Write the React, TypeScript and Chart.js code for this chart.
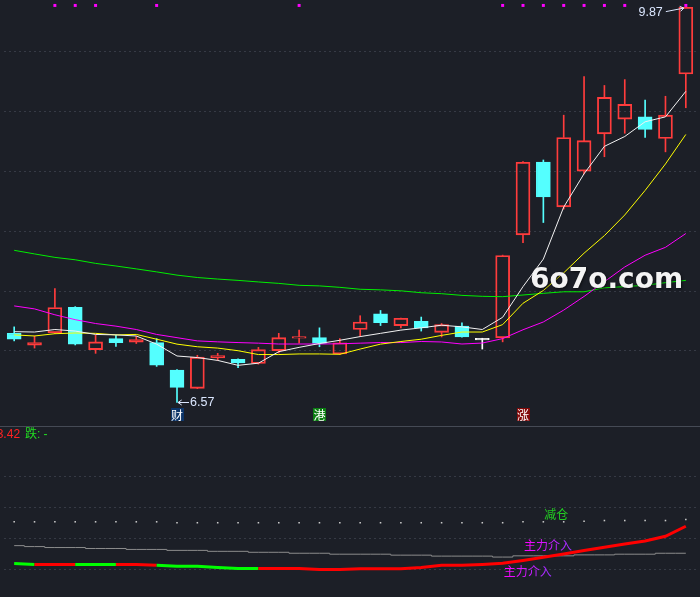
import React, { useEffect, useRef } from "react";
import { Chart, registerables } from "chart.js";

Chart.register(...registerables);

// ---------- candle data ----------
const opens = [7.147, 7.048, 7.152, 7.365, 7.011, 7.103, 7.073, 7.070, 6.841, 6.688, 6.942, 6.931, 6.896, 7.003, 7.106, 7.111, 6.975, 7.179, 7.310, 7.212, 7.248, 7.155, 7.207, 7.093, 7.109, 7.969, 8.577, 8.203, 8.501, 8.812, 8.935, 8.954, 8.774, 9.312];
const highs = [7.201, 7.125, 7.521, 7.370, 7.133, 7.130, 7.122, 7.103, 6.845, 6.964, 6.980, 6.935, 7.030, 7.147, 7.175, 7.193, 7.103, 7.294, 7.338, 7.275, 7.283, 7.229, 7.234, 7.106, 7.800, 8.580, 8.594, 8.968, 9.290, 9.216, 9.265, 9.093, 9.126, 9.870];
const lows = [7.084, 7.024, 7.144, 7.050, 6.980, 7.038, 7.062, 6.871, 6.570, 6.685, 6.920, 6.860, 6.890, 6.983, 7.065, 7.035, 6.970, 7.120, 7.212, 7.193, 7.166, 7.117, 7.115, 7.016, 7.076, 7.903, 8.072, 8.184, 8.477, 8.621, 8.817, 8.782, 8.662, 9.030];
const closes = [7.098, 7.070, 7.363, 7.057, 7.076, 7.070, 7.095, 6.882, 6.696, 6.948, 6.961, 6.901, 7.011, 7.111, 7.120, 7.062, 7.068, 7.242, 7.237, 7.273, 7.193, 7.220, 7.117, 7.093, 7.797, 8.575, 8.285, 8.782, 8.755, 9.116, 9.058, 8.850, 8.968, 9.869];
const categories = opens.map((_, i) => `K${i + 1}`);

// ---------- moving averages ----------
const ma5 = [7.161, 7.158, 7.179, 7.166, 7.138, 7.134, 7.125, 7.057, 6.958, 6.945, 6.921, 6.880, 6.898, 6.994, 7.030, 7.062, 7.089, 7.120, 7.147, 7.174, 7.193, 7.215, 7.201, 7.179, 7.281, 7.537, 7.767, 8.201, 8.479, 8.708, 8.790, 8.913, 8.954, 9.167];
const ma10 = [7.134, 7.125, 7.144, 7.150, 7.147, 7.134, 7.138, 7.098, 7.057, 7.035, 7.024, 7.002, 6.970, 6.970, 6.975, 6.975, 6.972, 7.016, 7.057, 7.079, 7.098, 7.130, 7.158, 7.158, 7.220, 7.398, 7.505, 7.652, 7.816, 7.963, 8.135, 8.340, 8.561, 8.807];
const ma20 = [7.376, 7.351, 7.302, 7.261, 7.229, 7.207, 7.179, 7.138, 7.111, 7.084, 7.076, 7.070, 7.065, 7.058, 7.058, 7.058, 7.060, 7.065, 7.070, 7.070, 7.079, 7.075, 7.058, 7.066, 7.103, 7.177, 7.242, 7.341, 7.455, 7.578, 7.701, 7.799, 7.865, 7.980];
const ma60 = [7.840, 7.810, 7.781, 7.761, 7.731, 7.709, 7.685, 7.660, 7.633, 7.613, 7.600, 7.589, 7.576, 7.564, 7.548, 7.543, 7.531, 7.515, 7.510, 7.502, 7.486, 7.478, 7.464, 7.456, 7.453, 7.467, 7.481, 7.494, 7.494, 7.527, 7.537, 7.548, 7.570, 7.589];

// top magenta markers (bar indices)
const markerIdx = [2, 3, 4, 7, 14, 24, 25, 26, 27, 28, 29, 30, 33];

// tags at bottom of price panel
const tagIdx = [8, 15, 25];
const tagText = ["财", "港", "涨"];
const tagBg = ["#0c3468", "#0b7d12", "#820a0a"];

// price axis
const priceMin = 6.407;
const priceMax = 9.896;
const priceGrid = [7.0, 7.5, 8.0, 8.5, 9.0, 9.5];

// ---------- indicator panel ----------
const dotLine = [2.542, 2.542, 2.542, 2.542, 2.542, 2.542, 2.542, 2.542, 2.512, 2.512, 2.512, 2.512, 2.512, 2.512, 2.512, 2.512, 2.512, 2.512, 2.512, 2.512, 2.512, 2.512, 2.512, 2.512, 2.512, 2.542, 2.542, 2.542, 2.561, 2.583, 2.583, 2.583, 2.583, 2.614];
const grayLine = [1.769, 1.738, 1.707, 1.707, 1.676, 1.676, 1.646, 1.646, 1.615, 1.615, 1.584, 1.584, 1.553, 1.553, 1.522, 1.522, 1.491, 1.491, 1.491, 1.460, 1.460, 1.429, 1.429, 1.429, 1.398, 1.438, 1.438, 1.438, 1.469, 1.469, 1.491, 1.491, 1.522, 1.522];
const mainLine = [1.191, 1.160, 1.160, 1.160, 1.160, 1.160, 1.160, 1.129, 1.098, 1.098, 1.058, 1.027, 1.027, 1.027, 1.027, 0.996, 0.996, 1.015, 1.015, 1.015, 1.058, 1.129, 1.129, 1.160, 1.200, 1.290, 1.392, 1.494, 1.608, 1.717, 1.819, 1.921, 2.072, 2.397];
const mainTrend = ["G", "R", "R", "G", "G", "R", "R", "G", "G", "G", "G", "G", "R", "R", "R", "R", "R", "R", "R", "R", "R", "R", "R", "R", "R", "R", "R", "R", "R", "R", "R", "R", "R", "R"];
const sigIdx = [26, 25, 24];
const sigVal = [2.784, 1.763, 0.943];
const sigText = ["减仓", "主力介入", "主力介入"];
const headerValue = "3.42";
const headerText = "跌: -";
const subMin = 0.232;
const subMax = 5.521;
const subGrid = [1, 2, 3, 4];

// ---------- styles ----------
const BG = "#1c1f27";
const GRID = "#363a45";
const SEP = "#454a55";
const UP = "#ff3c3c";
const DOWN = "#54ffff";
const FLAT = "#ffffff";
const LABEL = "#dbe7ff";

const candleColor = (i: number) =>
  closes[i] > opens[i] ? UP : closes[i] < opens[i] ? DOWN : FLAT;

const yAxis = (min: number, max: number, levels: number[]) => ({
  type: "linear" as const,
  position: "left" as const,
  min,
  max,
  ticks: { display: false },
  grid: { color: GRID, drawTicks: false, lineWidth: 1 },
  border: { display: false, dash: [2, 3] },
  afterBuildTicks: (axis: any) => {
    axis.ticks = levels.map((v) => ({ value: v }));
  },
  afterFit: (axis: any) => {
    axis.width = 0;
  },
});

const xAxis = {
  type: "category" as const,
  offset: true,
  display: false,
};

function drawArrow(ctx: CanvasRenderingContext2D, x1: number, y1: number, x2: number, y2: number) {
  const a = Math.atan2(y2 - y1, x2 - x1);
  const s = 4.5;
  ctx.beginPath();
  ctx.moveTo(x1, y1);
  ctx.lineTo(x2, y2);
  ctx.moveTo(x2 - s * Math.cos(a - 0.6), y2 - s * Math.sin(a - 0.6));
  ctx.lineTo(x2, y2);
  ctx.lineTo(x2 - s * Math.cos(a + 0.6), y2 - s * Math.sin(a + 0.6));
  ctx.stroke();
}

const mainOverlay = {
  id: "mainOverlay",
  afterDraw(chart: any) {
    const { ctx, chartArea: area } = chart;
    const xs = chart.scales.x;
    const ys = chart.scales.y;
    ctx.save();
    ctx.lineWidth = 1;
    ctx.strokeStyle = LABEL;
    ctx.fillStyle = LABEL;
    ctx.font = '12.5px "Liberation Sans", Arial, sans-serif';
    ctx.textBaseline = "middle";

    // lowest low
    const lowVal = Math.min(...lows);
    const lowIdx = lows.indexOf(lowVal);
    const lx = xs.getPixelForValue(lowIdx);
    const ly = Math.round(ys.getPixelForValue(lowVal)) + 0.5;
    drawArrow(ctx, lx + 12, ly, lx + 1, ly);
    ctx.textAlign = "left";
    ctx.fillText(lowVal.toFixed(2), lx + 13, ly);

    // highest high
    const highVal = Math.max(...highs);
    const highIdx = highs.indexOf(highVal);
    const hx = xs.getPixelForValue(highIdx);
    const hy = ys.getPixelForValue(highVal);
    drawArrow(ctx, hx - 20, hy + 4.5, hx - 2, hy + 1);
    ctx.textAlign = "right";
    ctx.fillText(highVal.toFixed(2), hx - 23, hy + 5.5);

    // tags
    ctx.font = '12px "Noto Sans CJK SC", sans-serif';
    ctx.textAlign = "center";
    tagIdx.forEach((idx, k) => {
      const cx = xs.getPixelForValue(idx);
      const top = area.bottom - 14;
      ctx.fillStyle = tagBg[k];
      ctx.fillRect(Math.round(cx - 6.5), top, 13, 13);
      ctx.fillStyle = "#ffffff";
      ctx.fillText(tagText[k], cx, top + 7);
    });

    // watermark
    ctx.font = 'bold 28px "DejaVu Sans", sans-serif';
    ctx.textAlign = "left";
    ctx.textBaseline = "alphabetic";
    ctx.shadowColor = "rgba(0,0,0,0.6)";
    ctx.shadowBlur = 3;
    ctx.shadowOffsetX = 1;
    ctx.shadowOffsetY = 1;
    ctx.fillStyle = "#f4f4f4";
    ctx.fillText("6o7o.com", 530, 288);
    ctx.restore();
  },
};

const subOverlay = {
  id: "subOverlay",
  afterDraw(chart: any) {
    const { ctx } = chart;
    const xs = chart.scales.x;
    const ys = chart.scales.y;
    ctx.save();
    ctx.strokeStyle = SEP;
    ctx.lineWidth = 1;
    ctx.beginPath();
    ctx.moveTo(0, 0.5);
    ctx.lineTo(chart.width, 0.5);
    ctx.stroke();

    ctx.font = '12px "Liberation Sans", "Noto Sans CJK SC", sans-serif';
    ctx.textBaseline = "middle";
    ctx.textAlign = "left";
    ctx.fillStyle = "#ff2222";
    const x0 = -3.3;
    ctx.fillText(headerValue, x0, 8.5);
    const w = ctx.measureText(headerValue + " ").width;
    ctx.fillStyle = "#22dd22";
    ctx.fillText(headerText, x0 + w + 1.5, 8.5);

    ctx.font = '12px "Noto Sans CJK SC", sans-serif';
    sigIdx.forEach((idx, k) => {
      const x = xs.getPixelForValue(idx) + 1;
      const y = ys.getPixelForValue(sigVal[k]);
      const t = sigText[k];
      if (t === "减仓") {
        ctx.fillStyle = "#22cc22";
      } else {
        const tw = ctx.measureText(t).width;
        const g = ctx.createLinearGradient(x, 0, x + tw, 0);
        g.addColorStop(0, "#ff00ff");
        g.addColorStop(1, "#9a32ff");
        ctx.fillStyle = g;
      }
      ctx.fillText(t, x, y);
    });
    ctx.restore();
  },
};

export default function App() {
  const mainRef = useRef<HTMLCanvasElement>(null);
  const subRef = useRef<HTMLCanvasElement>(null);

  useEffect(() => {
    document.body.style.margin = "0";
    document.body.style.background = BG;

    const lineDs = (label: string, data: number[], color: string) => ({
      type: "line" as const,
      label,
      data,
      borderColor: color,
      borderWidth: 1,
      pointRadius: 0,
      tension: 0,
      order: 0,
    });

    const markerLevel = priceMax - 0.012;

    const main = new Chart(mainRef.current!, {
      type: "bar",
      data: {
        labels: categories,
        datasets: [
          lineDs("MA5", ma5, "#f2f2f2"),
          lineDs("MA10", ma10, "#ffff00"),
          lineDs("MA20", ma20, "#ff00ff"),
          lineDs("MA60", ma60, "#00ee00"),
          {
            type: "line",
            label: "marks",
            data: categories.map((_, i) => (markerIdx.includes(i) ? markerLevel : null)),
            showLine: false,
            pointStyle: "rect",
            pointRadius: 2.1,
            pointBorderWidth: 0,
            pointBackgroundColor: "#ff00ff",
            pointBorderColor: "#ff00ff",
            clip: false,
            order: 0,
          } as any,
          {
            type: "bar",
            label: "upperWick",
            data: categories.map((_, i) => [Math.max(opens[i], closes[i]), highs[i]]),
            backgroundColor: categories.map((_, i) => candleColor(i)),
            borderWidth: 0,
            barThickness: 1,
            grouped: false,
            order: 2,
          } as any,
          {
            type: "bar",
            label: "lowerWick",
            data: categories.map((_, i) => [lows[i], Math.min(opens[i], closes[i])]),
            backgroundColor: categories.map((_, i) => candleColor(i)),
            borderWidth: 0,
            barThickness: 1,
            grouped: false,
            order: 2,
          } as any,
          {
            type: "bar",
            label: "body",
            data: categories.map((_, i) => [opens[i], closes[i]]),
            backgroundColor: categories.map((_, i) =>
              closes[i] > opens[i] ? "rgba(0,0,0,0)" : candleColor(i)
            ),
            borderColor: categories.map((_, i) => candleColor(i)),
            borderWidth: 1.2,
            borderSkipped: false,
            barThickness: 14,
            minBarLength: 1.5,
            grouped: false,
            order: 1,
          } as any,
        ],
      },
      options: {
        animation: false,
        responsive: true,
        maintainAspectRatio: false,
        events: [],
        layout: { padding: { left: 3, right: 4, top: 0, bottom: 0 } },
        plugins: { legend: { display: false }, tooltip: { enabled: false } },
        scales: {
          x: xAxis,
          y: yAxis(priceMin, priceMax, priceGrid),
        } as any,
      },
      plugins: [mainOverlay],
    });

    const sub = new Chart(subRef.current!, {
      type: "line",
      data: {
        labels: categories,
        datasets: [
          {
            label: "dots",
            data: dotLine,
            showLine: false,
            pointStyle: "rect",
            pointRadius: 1.1,
            pointBorderWidth: 0,
            pointBackgroundColor: "#c8c8c8",
            order: 2,
          } as any,
          {
            label: "base",
            data: grayLine,
            borderColor: "#8c8c8c",
            borderWidth: 1,
            pointRadius: 0,
            stepped: "middle",
            order: 1,
          } as any,
          {
            label: "main",
            data: mainLine,
            borderWidth: 3,
            pointRadius: 0,
            tension: 0,
            borderColor: "#ff0000",
            segment: {
              borderColor: (ctx: any) =>
                mainTrend[ctx.p0DataIndex] === "R" ? "#ff0000" : "#00ff00",
            },
            order: 0,
          } as any,
        ],
      },
      options: {
        animation: false,
        responsive: true,
        maintainAspectRatio: false,
        events: [],
        layout: { padding: { left: 3, right: 4, top: 0, bottom: 0 } },
        plugins: { legend: { display: false }, tooltip: { enabled: false } },
        scales: {
          x: xAxis,
          y: yAxis(subMin, subMax, subGrid),
        } as any,
      },
      plugins: [subOverlay],
    });

    return () => {
      main.destroy();
      sub.destroy();
    };
  }, []);

  return (
    <div
      style={{
        position: "fixed",
        left: 0,
        top: 0,
        width: 700,
        height: 597,
        background: BG,
        overflow: "hidden",
      }}
    >
      <div style={{ position: "absolute", left: 0, top: 0, width: 700, height: 426 }}>
        <canvas ref={mainRef} />
      </div>
      <div style={{ position: "absolute", left: 0, top: 426, width: 700, height: 171 }}>
        <canvas ref={subRef} />
      </div>
    </div>
  );
}
